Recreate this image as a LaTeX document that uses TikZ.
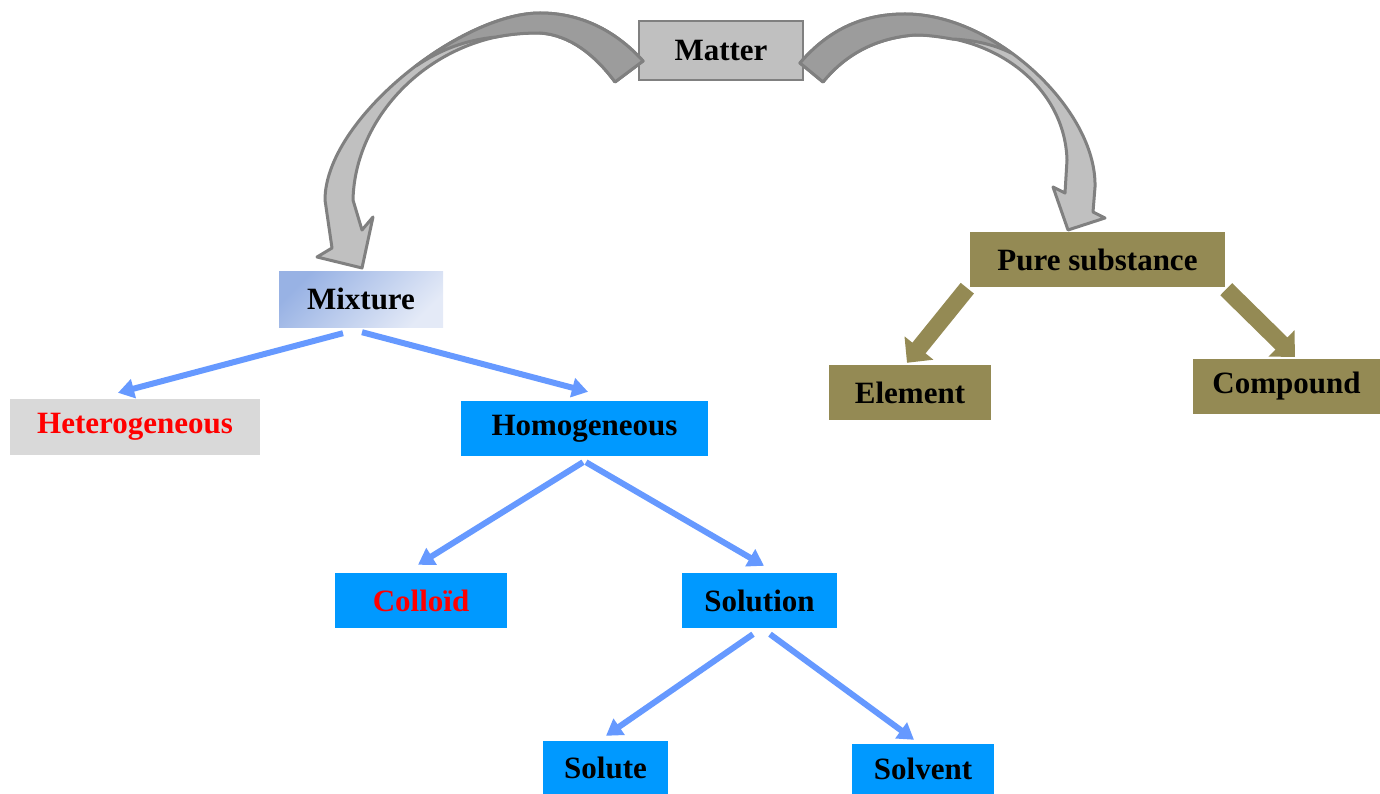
\documentclass[tikz,border=0pt]{standalone}
\usepackage{fontspec}
\setmainfont{Liberation Serif}
\usetikzlibrary{arrows.meta,calc}
\definecolor{boxblue}{HTML}{0099FF}
\definecolor{oliveb}{HTML}{948A54}
\definecolor{arrblue}{HTML}{6699FF}
\definecolor{lgray}{HTML}{C0C0C0}
\definecolor{dgray}{HTML}{9C9C9C}
\definecolor{egray}{HTML}{808080}
\definecolor{hgray}{HTML}{D9D9D9}
\definecolor{mixA}{HTML}{98B2E4}
\definecolor{mixB}{HTML}{E4EAF7}
\begin{document}
\begin{tikzpicture}[x=1pt,y=-1pt,
  lbl/.style={font=\fontsize{31}{37}\selectfont\bfseries, inner sep=0pt, align=center, text=black},
  bluebox/.style={lbl, fill=boxblue},
  olivebox/.style={lbl, fill=oliveb},
  barrow/.style={draw=arrblue, line width=6pt, -{Triangle[length=16pt,width=19pt]}},
  oarrow/.style={draw=oliveb, line width=17pt, -{Triangle[length=19pt,width=36pt]}},
  curvearrow/.style={draw=egray, line width=3pt, line join=round}
]
\useasboundingbox (0,0) rectangle (1380,794);

% nodes
\node[lbl, fill=lgray, draw=egray, line width=2pt, minimum width=164pt, minimum height=59pt] (matter) at (721,50.5) {Matter};
\node[lbl, top color=mixA, bottom color=mixB, shading angle=45, minimum width=164pt, minimum height=56pt] (mix) at (361,299) {Mixture};
\node[lbl, fill=hgray, text=red, minimum width=250pt, minimum height=56pt] (het) at (135,427) {Heterogeneous};
\node[bluebox, minimum width=247pt, minimum height=55pt] (homo) at (584.5,428.5) {Homogeneous};
\node[bluebox, text=red, minimum width=172pt, minimum height=55pt] (col) at (421,600.5) {Colloïd};
\node[bluebox, minimum width=155pt, minimum height=55pt] (sol) at (759.5,600.5) {Solution};
\node[bluebox, minimum width=125pt, minimum height=53pt] (solute) at (605.5,767.5) {Solute};
\node[bluebox, minimum width=142pt, minimum height=50pt] (solvent) at (923,769) {Solvent};
\node[olivebox, minimum width=255pt, minimum height=55pt] (pure) at (1097.5,259.5) {Pure substance};
\node[olivebox, minimum width=162pt, minimum height=55pt] (elem) at (910,392.5) {Element};
\node[olivebox, minimum width=187pt, minimum height=55pt] (comp) at (1286.5,386.5) {Compound};

% curved arrow to Mixture
\filldraw[curvearrow, fill=lgray]
  (643,61) .. controls (615,30) and (580,13) .. (540,13)
  .. controls (460,13) and (325,120) .. (325,200) -- (332,248) -- (317,257)
  -- (362,268) -- (373,217) -- (362,230) -- (353,200)
  .. controls (355,110) and (440,30) .. (540,33)
  .. controls (570,35) and (595,55) .. (615,82) -- cycle;
\filldraw[curvearrow, fill=dgray]
  (643,61) .. controls (615,30) and (580,13) .. (540,13)
  .. controls (504,13) and (457,35) .. (416,66)
  .. controls (440,50) and (465,40) .. (496,37)
  .. controls (512,34) and (525,33) .. (540,33)
  .. controls (570,35) and (595,55) .. (615,82) -- cycle;

% curved arrow to Pure substance
\filldraw[curvearrow, fill=lgray]
  (800,63) .. controls (830,28) and (865,14) .. (905,14)
  .. controls (995,14) and (1097,110) .. (1095,187) -- (1093,212) -- (1105,218)
  -- (1068,230) -- (1053,187) -- (1065,193) -- (1067,160)
  .. controls (1065,90) and (1000,35) .. (915,35)
  .. controls (875,38) and (845,55) .. (823,82) -- cycle;
\filldraw[curvearrow, fill=dgray]
  (800,63) .. controls (830,28) and (865,14) .. (905,14)
  .. controls (941,14) and (979,29) .. (1011,53)
  .. controls (995,45) and (975,40) .. (952,39)
  .. controls (935,36) and (925,35) .. (915,35)
  .. controls (875,38) and (845,55) .. (823,82) -- cycle;

% blue arrows
\draw[barrow] ($(mix.south)+(-18,6)$) -- ($(het.north)+(-17,-6)$);
\draw[barrow] ($(mix.south)+(1,5)$) -- ($(homo.north)+(3.5,-9)$);
\draw[barrow] ($(homo.south)+(-1.5,6)$) -- ($(col.north)+(-3,-8)$);
\draw[barrow] ($(homo.south)+(1.5,6)$) -- ($(sol.north)+(4.5,-7)$);
\draw[barrow] ($(sol.south)+(-6.5,6)$) -- ($(solute.north)+(0.5,-5)$);
\draw[barrow] ($(sol.south)+(10.5,6)$) -- ($(solvent.north)+(-9,-4)$);

% olive arrows
\draw[oarrow] ($(pure.south west)+(-2.5,1)$) -- ($(elem.north)+(-3,-2)$);
\draw[oarrow] ($(pure.south east)+(1,2)$) -- ($(comp.north)+(8.5,-2)$);
\end{tikzpicture}
\end{document}
